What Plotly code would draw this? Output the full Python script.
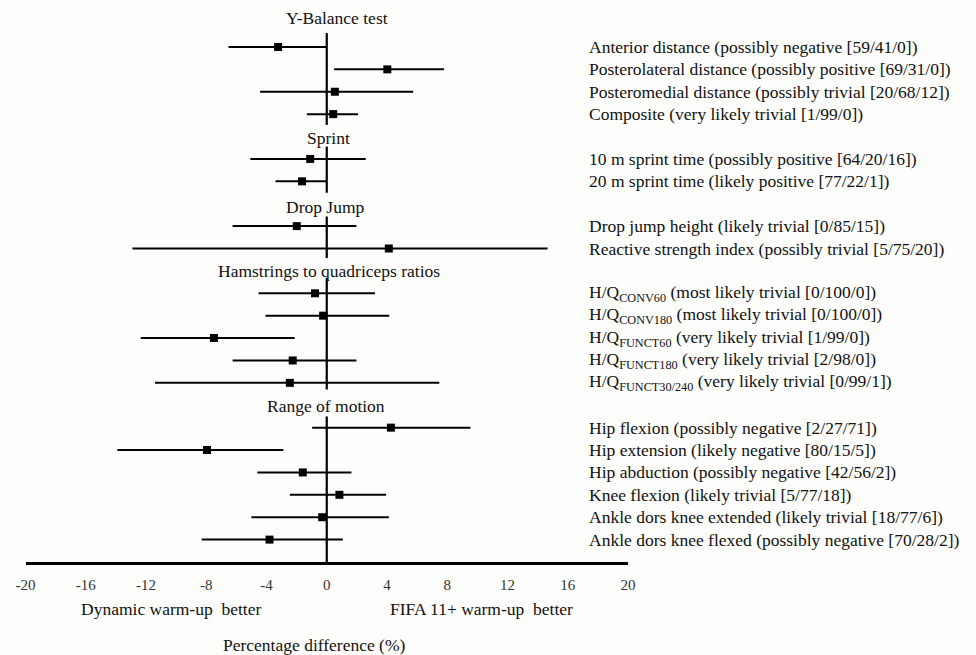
import plotly.graph_objects as go

# ---------------- data ----------------
group_titles = ["Y-Balance test", "Sprint", "Drop Jump",
                "Hamstrings to quadriceps ratios", "Range of motion"]

ybal_labels = ["Anterior distance (possibly negative [59/41/0])",
               "Posterolateral distance (possibly positive [69/31/0])",
               "Posteromedial distance (possibly trivial [20/68/12])",
               "Composite (very likely trivial [1/99/0])"]
ybal_est = [-3.23, 4.02, 0.54, 0.43]
ybal_lo = [-6.52, 0.49, -4.42, -1.32]
ybal_hi = [0.0, 7.79, 5.74, 2.08]

sprint_labels = ["10 m sprint time (possibly positive [64/20/16])",
                 "20 m sprint time (likely positive [77/22/1])"]
sprint_est = [-1.10, -1.64]
sprint_lo = [-5.07, -3.40]
sprint_hi = [2.59, 0.0]

dj_labels = ["Drop jump height (likely trivial [0/85/15])",
             "Reactive strength index (possibly trivial [5/75/20])"]
dj_est = [-1.99, 4.12]
dj_lo = [-6.25, -12.90]
dj_hi = [1.97, 14.66]

hq_labels = ["H/Q<sub>CONV60</sub> (most likely trivial [0/100/0])",
             "H/Q<sub>CONV180</sub> (most likely trivial [0/100/0])",
             "H/Q<sub>FUNCT60</sub> (very likely trivial [1/99/0])",
             "H/Q<sub>FUNCT180</sub> (very likely trivial [2/98/0])",
             "H/Q<sub>FUNCT30/240</sub> (very likely trivial [0/99/1])"]
hq_est = [-0.78, -0.24, -7.49, -2.26, -2.45]
hq_lo = [-4.53, -4.07, -12.35, -6.25, -11.40]
hq_hi = [3.20, 4.15, -2.13, 1.97, 7.47]

rom_labels = ["Hip flexion (possibly negative [2/27/71])",
              "Hip extension (likely negative [80/15/5])",
              "Hip abduction (possibly negative [42/56/2])",
              "Knee flexion (likely trivial [5/77/18])",
              "Ankle dors knee extended (likely trivial [18/77/6])",
              "Ankle dors knee flexed (possibly negative [70/28/2])"]
rom_est = [4.26, -7.95, -1.59, 0.84, -0.30, -3.80]
rom_lo = [-0.97, -13.90, -4.61, -2.45, -5.00, -8.30]
rom_hi = [9.54, -2.88, 1.64, 3.94, 4.12, 1.07]

x_ticks = [-20, -16, -12, -8, -4, 0, 4, 8, 12, 16, 20]
left_note = "Dynamic warm-up\u00a0 better"
right_note = "FIFA 11+ warm-up\u00a0 better"
x_title = "Percentage difference (%)"

# ---------------- layout of rows ----------------
groups = [
    (ybal_labels, ybal_est, ybal_lo, ybal_hi),
    (sprint_labels, sprint_est, sprint_lo, sprint_hi),
    (dj_labels, dj_est, dj_lo, dj_hi),
    (hq_labels, hq_est, hq_lo, hq_hi),
    (rom_labels, rom_est, rom_lo, rom_hi),
]
title_shift = [-0.28, 0.07, 0.13, 0.0, 0.02]
title_xpos = [0.68, 0.1, -0.07, 0.18, -0.05]
line_pad_top = [0.62, 0.55, 0.43, 0.69, 0.5]
line_pad_bot = [0.48, 0.51, 0.43, 0.30, None]

FONT = "Liberation Serif"
fig = go.Figure()

rows_y, all_est, all_lo, all_hi, all_lab = [], [], [], [], []
zx, zy = [], []
title_ann = []
slot = 0
for gi, (labs, est, lo, hi) in enumerate(groups):
    if gi > 0:
        slot += 1  # slot for group title
    first = slot
    title_ann.append((group_titles[gi], title_xpos[gi], first - 1 + title_shift[gi]))
    for k in range(len(labs)):
        rows_y.append(slot)
        all_est.append(est[k]); all_lo.append(lo[k]); all_hi.append(hi[k])
        all_lab.append(labs[k])
        slot += 1
    last = slot - 1
    top = first - line_pad_top[gi]
    bot = last + line_pad_bot[gi] if line_pad_bot[gi] is not None else last + 1
    zx += [0, 0, None]
    zy += [top, bot, None]
axis_slot = rows_y[-1] + 1

# zero reference line segments
fig.add_trace(go.Scatter(x=zx, y=zy, mode="lines",
                         line=dict(color="black", width=2.2),
                         hoverinfo="skip", showlegend=False))

# estimates with confidence limits
fig.add_trace(go.Scatter(
    x=all_est, y=rows_y, mode="markers",
    marker=dict(symbol="square", size=8, color="black"),
    error_x=dict(type="data", symmetric=False,
                 array=[h - e for h, e in zip(all_hi, all_est)],
                 arrayminus=[e - l for e, l in zip(all_est, all_lo)],
                 width=0, thickness=2, color="black"),
    showlegend=False))

W, H = 976, 655
px_per_slot = 22.41
plot_h = 47 + axis_slot * px_per_slot
y_top = -47 / px_per_slot
b_marg = H - plot_h


def paper_y(px):
    # pixel (from top of figure) -> paper coordinate (0 = bottom of plot area)
    return (plot_h - px) / plot_h


ann = []
for lab, yv in zip(all_lab, rows_y):
    ann.append(dict(x=17.28, y=yv, xref="x", yref="y", text=lab,
                    showarrow=False, xanchor="left", yanchor="middle",
                    font=dict(family=FONT, size=17.5, color="#111")))
for t, xv, yv in title_ann:
    ann.append(dict(x=xv, y=yv, xref="x", yref="y", text=t,
                    showarrow=False, xanchor="center", yanchor="middle",
                    font=dict(family=FONT, size=17.5, color="#111")))
ann.append(dict(x=-16.45, y=paper_y(609), xref="x", yref="paper", text=left_note,
                showarrow=False, xanchor="left", yanchor="middle",
                font=dict(family=FONT, size=17.5, color="#111")))
ann.append(dict(x=16.48, y=paper_y(609), xref="x", yref="paper", text=right_note,
                showarrow=False, xanchor="right", yanchor="middle",
                font=dict(family=FONT, size=17.5, color="#111")))
ann.append(dict(x=-0.8, y=paper_y(645), xref="x", yref="paper", text=x_title,
                showarrow=False, xanchor="center", yanchor="middle",
                font=dict(family=FONT, size=17.5, color="#111")))

fig.update_layout(
    width=W, height=H,
    margin=dict(l=0, r=0, t=0, b=b_marg, pad=0, autoexpand=False),
    paper_bgcolor="#fdfdfb", plot_bgcolor="#fdfdfb",
    annotations=ann,
    xaxis=dict(domain=[25.5 / W, 628 / W], range=[-20, 20],
               tickvals=x_ticks, ticktext=[str(v) for v in x_ticks],
               showgrid=False, zeroline=False, automargin=False,
               showline=True, linecolor="black", linewidth=2.5,
               ticks="outside", ticklen=7, tickcolor="rgba(0,0,0,0)",
               tickfont=dict(family=FONT, size=15, color="#333")),
    yaxis=dict(range=[axis_slot, y_top], visible=False, automargin=False,
               showgrid=False, zeroline=False),
)

fig.write_html("out.html",
               config={"displayModeBar": False},
               post_script="document.body.style.margin='0';"
                           "document.body.style.overflow='hidden';")
